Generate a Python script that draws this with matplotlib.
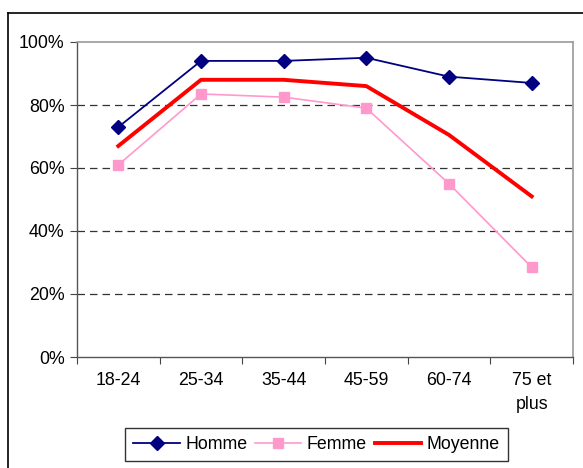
import matplotlib.pyplot as plt
from matplotlib.lines import Line2D
from matplotlib.ticker import FuncFormatter

plt.rcParams['font.family'] = ['Liberation Sans', 'DejaVu Sans']

categories = ['18-24', '25-34', '35-44', '45-59', '60-74', '75 et\nplus']
homme = [73, 94, 94, 95, 89, 87]
femme = [61, 83.5, 82.5, 79, 55, 28.5]
moyenne = [67, 88, 88, 86, 70.5, 51]

W, H = 583, 468
fig = plt.figure(figsize=(W / 100, H / 100), dpi=100)
ax = fig.add_axes([77 / W, 1 - 357 / H, 496 / W, 315 / H])

x = range(len(categories))
ax.plot(x, homme, color='#000080', lw=1.3, marker='D', ms=7, label='Homme')
ax.plot(x, femme, color='#FF99CC', lw=1.2, marker='s', ms=6.5, label='Femme')
ax.plot(x, moyenne, color='#FF0000', lw=2.8, label='Moyenne')

ax.set_xlim(-0.5, 5.5)
ax.set_ylim(0, 100)
ax.set_yticks([0, 20, 40, 60, 80, 100])
ax.yaxis.set_major_formatter(FuncFormatter(lambda v, p: f'{v:.0f}%'))
for v in [20, 40, 60, 80]:
    ax.axhline(v, color='#333333', lw=0.9, ls=(0, (6, 4)), zorder=0)

ax.set_xticks([i - 0.5 for i in range(7)])
ax.set_xticklabels([])
ax.set_xticks(list(x), minor=True)
ax.set_xticklabels(categories, minor=True, fontsize=12.8, linespacing=1.5, va='top')
ax.tick_params(axis='x', which='major', length=5, direction='out', color='#444444')
ax.tick_params(axis='x', which='minor', length=0, pad=11)
ax.tick_params(axis='y', length=5, direction='out', labelsize=12.8, color='#444444', pad=4)

for s in ['top', 'right']:
    ax.spines[s].set_color('#999999')
    ax.spines[s].set_linewidth(1.2)
for s in ['left', 'bottom']:
    ax.spines[s].set_color('#555555')
    ax.spines[s].set_linewidth(1.0)

leg = ax.legend(loc='center', bbox_to_anchor=(316.5 / W, 1 - 444.5 / H),
                bbox_transform=fig.transFigure, ncol=3, fontsize=12.8,
                frameon=True, fancybox=False, edgecolor='black',
                handlelength=2.6, handletextpad=0.3, columnspacing=0.45,
                borderpad=0.45, borderaxespad=0)
leg.get_frame().set_linewidth(1.0)

# outer chart frame (cut off at right and bottom)
fig.add_artist(Line2D([7.5 / W, 7.5 / W], [0, 1 - 12.5 / H], color='black', lw=1.2,
                      transform=fig.transFigure))
fig.add_artist(Line2D([7.5 / W, 1], [1 - 12.5 / H, 1 - 12.5 / H], color='black', lw=1.2,
                      transform=fig.transFigure))

fig.savefig('out.png', dpi=100)
